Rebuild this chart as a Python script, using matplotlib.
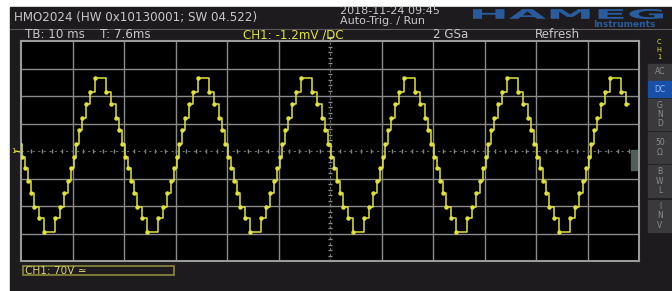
import numpy as np
import matplotlib.pyplot as plt
from matplotlib.patches import Rectangle, PathPatch
from matplotlib.textpath import TextPath
from matplotlib.font_manager import FontProperties
from matplotlib.transforms import Affine2D

# one period of the staircase, starting at the flat top
step_levels_v = [185, 150, 119, 84, 53, 17, -14, -42, -77, -108, -143, -171,
                 -206, -171, -143, -108, -77, -42, -14, 17, 53, 84, 119, 150]
step_durs_ms = [2.2, 0.95, 0.85, 0.7, 0.6, 0.55, 0.5, 0.55, 0.6, 0.7, 0.85, 0.95,
                2.2, 0.95, 0.85, 0.7, 0.6, 0.55, 0.5, 0.55, 0.6, 0.7, 0.85, 0.95]
first_top_ms = -5.6
n_periods = 7
trace_end_ms = 118

t_div_ms = 10
v_div = 70
n_xdiv = 12
n_ydiv = 8

buttons = ["AC", "DC", "G\nN\nD", "50\nΩ", "B\nW\nL", "I\nN\nV"]
button_y = [(64, 80), (81, 97), (99, 130), (132, 163), (165, 197), (200, 232)]

YEL = "#e2e23c"
GRID = "#8a8a8a"
TXT = "#c8c8c8"
BG = "#1d1b1d"

W, H = 672, 291
fig = plt.figure(figsize=(W / 100, H / 100), dpi=100, facecolor="white")

# screen furniture, drawn in pixel coords
bg = fig.add_axes([0, 0, 1, 1], zorder=0)
bg.set_xlim(0, W)
bg.set_ylim(H, 0)
bg.axis("off")
bg.add_patch(Rectangle((10, 7), W - 10, H - 7, color=BG))
bg.plot([10, W], [28.5, 28.5], color="#5a5a5a", lw=0.8)

fs = 8.6
bg.text(14, 17, "HMO2024 (HW 0x10130001; SW 04.522)", color=TXT, fontsize=fs, va="center")
bg.text(340, 11.5, "2018-11-24 09:45", color=TXT, fontsize=fs - 0.6, va="center")
bg.text(340, 21.5, "Auto-Trig. / Run", color=TXT, fontsize=fs - 0.6, va="center")
bg.text(25, 35, "TB: 10 ms", color=TXT, fontsize=fs, va="center")
bg.text(100, 35, "T: 7.6ms", color=TXT, fontsize=fs, va="center")
bg.text(243, 35, "CH1: -1.2mV /DC", color=YEL, fontsize=fs, va="center")
bg.text(433, 35, "2 GSa", color=TXT, fontsize=fs, va="center")
bg.text(535, 35, "Refresh", color=TXT, fontsize=fs, va="center")

# HAMEG logo, stretched text path
tp = TextPath((0, 0), "HAMEG", size=10, prop=FontProperties(family="DejaVu Sans", weight="bold"))
ext = tp.get_extents()
tr = Affine2D().translate(-ext.x0, -ext.y0).scale(190 / ext.width, -10 / ext.height).translate(473, 19)
bg.add_patch(PathPatch(tr.transform_path(tp), color="#2a5b9c", lw=0))
bg.text(655, 24.5, "Instruments", color="#2a5b9c", fontsize=6.5, ha="right", va="center", weight="bold")

# channel marker on the left
bg.text(11, 151, "1", color=YEL, fontsize=5, va="center")
bg.plot([15, 21], [151, 152], color=YEL, lw=1)

# trigger marker at the top
bg.plot([330, 330], [37, 45], color="#b0b0b0", lw=0.8)
bg.plot([327.5, 332.5], [37, 37], color="#b0b0b0", lw=0.8)

# bottom channel box
bg.add_patch(Rectangle((23, 266), 151, 9, fill=False, edgecolor="#8c8a3c", lw=1.2))
bg.text(25, 270.8, "CH1: 70V ≃", color="#d8d070", fontsize=7.6, va="center")

# right panel
for i, ch in enumerate("CH1"):
    bg.text(659, 42 + i * 7.5, ch, color=YEL, fontsize=4.8, ha="center", va="center")
for lab, (y0, y1) in zip(buttons, button_y):
    active = lab == "DC"
    bg.add_patch(Rectangle((648, y0), W - 648, y1 - y0,
                           color="#1a4fa8" if active else "#3a393b"))
    bg.text(660, (y0 + y1) / 2, lab, color="#8fb8ff" if active else "#8e8e8e",
            fontsize=5.5, ha="center", va="center", linespacing=1.05)

# graticule and trace
ax = fig.add_axes([21 / W, (H - 261) / H, 618 / W, 220 / H], zorder=1)
xmax = n_xdiv * t_div_ms
ymax = n_ydiv / 2 * v_div
ax.set_xlim(0, xmax)
ax.set_ylim(-ymax, ymax)
ax.set_facecolor("black")
ax.set_xticks([])
ax.set_yticks([])
for s in ax.spines.values():
    s.set_color("#9a9a9a")
    s.set_linewidth(1.5)

for x in np.arange(t_div_ms, xmax, t_div_ms):
    if x != xmax / 2:
        ax.axvline(x, color=GRID, lw=1)
for y in np.arange(-ymax + v_div, ymax, v_div):
    if y != 0:
        ax.axhline(y, color=GRID, lw=1)

xt = np.arange(0, xmax + 0.01, t_div_ms / 5)
ax.plot(xt, np.zeros_like(xt), ls="none", marker="|", ms=2.5, color="#8a8a8a")
ax.axhline(0, color="#6a6a6a", lw=0.8, ls=(0, (2, 3)))
yt = np.arange(-ymax, ymax + 0.01, v_div / 5)
ax.plot(np.full_like(yt, xmax / 2), yt, ls="none", marker="_", ms=2.5, color="#8a8a8a")
ax.axvline(xmax / 2, color="#6a6a6a", lw=0.8, ls=(0, (2, 3)))

ax.add_patch(Rectangle((118.4, -48), 1.6, 50, color="#4f5f5a", zorder=2))

levels = np.tile(step_levels_v, n_periods)
starts = first_top_ms + np.concatenate([[0], np.cumsum(np.tile(step_durs_ms, n_periods))[:-1]])
keep = starts < trace_end_ms
t = np.append(starts[keep], trace_end_ms)
v = np.append(levels[keep], levels[keep][-1])
ax.step(t, v, where="post", color=YEL, lw=1.1, zorder=3)
ax.plot(starts[keep], levels[keep], "o", ms=2.2, color=YEL, zorder=3)

fig.savefig("out.png", dpi=100, facecolor=fig.get_facecolor())
